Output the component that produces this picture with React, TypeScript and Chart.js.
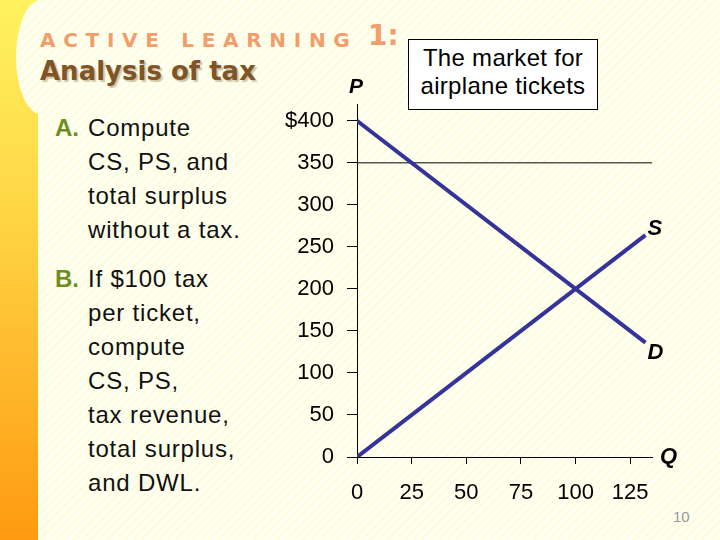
import React, { useEffect, useRef } from "react";
import { Chart, registerables } from "chart.js";

Chart.register(...registerables);

// ---- data ----
const quantities = [0, 132];
const demandPrices = [400, 136];
const supplyPrices = [0, 264];
const referenceQuantities = [0, 135];
const referencePrices = [350, 350];
const priceTicks = [0, 50, 100, 150, 200, 250, 300, 350, 400];
const quantityTicks = [0, 25, 50, 75, 100, 125];
const curveNames = ["S", "D"];
const axisNames = ["P", "Q"];

const CURVE = "#333399";
const FONT = "'Liberation Sans', Arial, sans-serif";
const STRIPES =
  "repeating-linear-gradient(135deg, #FDFDE2 0px, #FDFDE2 3px, #FFFFF3 3px, #FFFFF3 6px)";

const labelPlugin = {
  id: "econLabels",
  afterDatasetsDraw(chart: any) {
    const { ctx, scales, chartArea } = chart;
    const xs = scales.x;
    const ys = scales.y;
    ctx.save();
    ctx.fillStyle = "#000";
    ctx.font = `bold italic 22px ${FONT}`;
    const qEnd = quantities[quantities.length - 1];
    ctx.textAlign = "left";
    ctx.textBaseline = "alphabetic";
    ctx.fillText(curveNames[0], xs.getPixelForValue(qEnd) + 2, ys.getPixelForValue(supplyPrices[supplyPrices.length - 1]));
    ctx.textBaseline = "top";
    ctx.fillText(curveNames[1], xs.getPixelForValue(qEnd) + 2, ys.getPixelForValue(demandPrices[demandPrices.length - 1]) - 1);
    ctx.font = `bold italic 21px ${FONT}`;
    ctx.textAlign = "center";
    ctx.textBaseline = "alphabetic";
    ctx.fillText(axisNames[0], chartArea.left - 1, chartArea.top - 11);
    ctx.font = `bold italic 22px ${FONT}`;
    ctx.textAlign = "left";
    ctx.textBaseline = "middle";
    ctx.fillText(axisNames[1], chartArea.right + 8, chartArea.bottom);
    ctx.restore();
  },
};

function MarketChart() {
  const ref = useRef<HTMLCanvasElement | null>(null);
  useEffect(() => {
    if (!ref.current) return;
    const tickFont = { family: FONT, size: 22 };
    const chart = new Chart(ref.current, {
      type: "scatter",
      data: {
        datasets: [
          {
            label: "Demand",
            data: quantities.map((q, i) => ({ x: q, y: demandPrices[i] })),
            showLine: true,
            borderColor: CURVE,
            borderWidth: 4,
            pointRadius: 0,
          },
          {
            label: "Supply",
            data: quantities.map((q, i) => ({ x: q, y: supplyPrices[i] })),
            showLine: true,
            borderColor: CURVE,
            borderWidth: 4,
            pointRadius: 0,
          },
          {
            label: "Price 350",
            data: referenceQuantities.map((q, i) => ({ x: q, y: referencePrices[i] })),
            showLine: true,
            borderColor: "#000",
            borderWidth: 1,
            pointRadius: 0,
          },
        ],
      },
      options: {
        animation: false,
        responsive: false,
        devicePixelRatio: 1,
        layout: { padding: { top: 104, right: 68, left: 0, bottom: 0 } },
        plugins: { legend: { display: false }, tooltip: { enabled: false } },
        scales: {
          x: {
            type: "linear",
            min: 0,
            max: 135,
            afterBuildTicks: (s: any) => {
              s.ticks = quantityTicks.map((v) => ({ value: v }));
            },
            afterFit: (s: any) => {
              s.height = 83;
            },
            ticks: { font: tickFont, color: "#000", padding: 16, maxRotation: 0, autoSkip: false },
            grid: { drawOnChartArea: false, drawTicks: true, tickLength: 7, color: "#000", lineWidth: 1 },
            border: { color: "#000", width: 1 },
          },
          y: {
            type: "linear",
            min: 0,
            max: 420,
            afterBuildTicks: (s: any) => {
              s.ticks = priceTicks.map((v) => ({ value: v }));
            },
            afterFit: (s: any) => {
              s.width = 357;
            },
            ticks: {
              font: tickFont,
              color: "#000",
              padding: 13,
              autoSkip: false,
              callback: (v: any) => (v === priceTicks[priceTicks.length - 1] ? "$" + v : String(v)),
            },
            grid: { drawOnChartArea: false, drawTicks: true, tickLength: 10, color: "#000", lineWidth: 1 },
            border: { color: "#000", width: 1 },
          },
        },
      },
      plugins: [labelPlugin],
    });
    return () => chart.destroy();
  }, []);
  return (
    <canvas
      ref={ref}
      width={720}
      height={540}
      style={{ position: "absolute", left: 0, top: 0, width: 720, height: 540 }}
    />
  );
}

export default function App() {
  const body: React.CSSProperties = {
    fontFamily: FONT,
    fontSize: 24,
    lineHeight: "34px",
    color: "#111",
    letterSpacing: "0.8px",
  };
  const tag: React.CSSProperties = {
    position: "absolute",
    left: 0,
    top: 0,
    color: "#6E8E1E",
    fontWeight: "bold",
    letterSpacing: 0,
  };
  return (
    <div
      style={{
        position: "absolute",
        left: 0,
        top: 0,
        width: 720,
        height: 540,
        overflow: "hidden",
        background: STRIPES,
      }}
    >
      <div
        style={{
          position: "absolute",
          left: 0,
          top: 0,
          width: 38,
          height: 540,
          background: "linear-gradient(to bottom, #FFF25E, #FFD545 40%, #FF9A10)",
        }}
      />
      <div
        style={{
          position: "absolute",
          left: 16,
          top: 0,
          width: 50,
          height: 114,
          background: STRIPES,
          backgroundSize: "720px 540px",
          backgroundPosition: "-16px 0px",
          borderRadius: "50%",
        }}
      />
      <div
        style={{
          position: "absolute",
          left: 40,
          top: 30,
          fontFamily: "'DejaVu Sans', Verdana, sans-serif",
          fontWeight: "bold",
          fontSize: 20,
          lineHeight: "20px",
          letterSpacing: "7.7px",
          color: "#F29E6C",
          whiteSpace: "nowrap",
        }}
      >
        ACTIVE LEARNING
      </div>
      <div
        style={{
          position: "absolute",
          left: 368,
          top: 22,
          fontFamily: "'DejaVu Sans', Verdana, sans-serif",
          fontWeight: "bold",
          fontSize: 28,
          lineHeight: "28px",
          color: "#F29E6C",
          whiteSpace: "nowrap",
        }}
      >
        1:
      </div>
      <div
        style={{
          position: "absolute",
          left: 40,
          top: 58,
          fontFamily: "'DejaVu Sans', Verdana, sans-serif",
          fontWeight: "bold",
          fontSize: 26,
          lineHeight: "26px",
          color: "#7F5528",
          textShadow: "2px 2px 1px rgba(120,100,60,0.35)",
          whiteSpace: "nowrap",
        }}
      >
        Analysis of tax
      </div>

      <div style={{ ...body, position: "absolute", left: 55, top: 111, paddingLeft: 33 }}>
        <span style={tag}>A.</span>
        Compute
        <br />
        CS, PS, and
        <br />
        total surplus
        <br />
        without a tax.
      </div>
      <div style={{ ...body, position: "absolute", left: 55, top: 262, paddingLeft: 33 }}>
        <span style={tag}>B.</span>
        If $100 tax
        <br />
        per ticket,
        <br />
        compute
        <br />
        CS, PS,
        <br />
        tax revenue,
        <br />
        total surplus,
        <br />
        and DWL.
      </div>

      <div
        style={{
          position: "absolute",
          left: 408,
          top: 39,
          width: 188,
          height: 65,
          border: "1px solid #000",
          background: "#fff",
          fontFamily: FONT,
          fontSize: 24,
          lineHeight: "28px",
          letterSpacing: "0.3px",
          color: "#000",
          textAlign: "center",
          paddingTop: 4,
          boxSizing: "content-box",
        }}
      >
        The market for
        <br />
        airplane tickets
      </div>

      <div
        style={{
          position: "absolute",
          left: 673,
          top: 509,
          fontFamily: FONT,
          fontSize: 15,
          lineHeight: "15px",
          color: "#999",
        }}
      >
        10
      </div>

      <MarketChart />
    </div>
  );
}
